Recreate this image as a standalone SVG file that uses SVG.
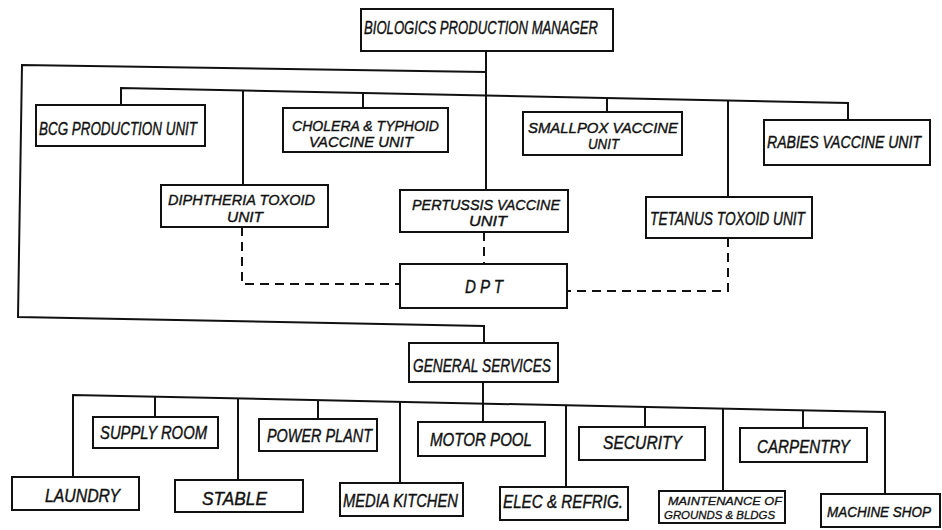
<svg xmlns="http://www.w3.org/2000/svg" width="942" height="530" viewBox="0 0 942 530">
  <style>
    .box { fill: #fff; stroke: #111; stroke-width: 2; }
    .ln { fill: none; stroke: #111; stroke-width: 2; stroke-linejoin: miter; }
    .dash { fill: none; stroke: #111; stroke-width: 2; stroke-dasharray: 9 6; }
    text { font-family: "Liberation Sans", Arial, sans-serif; font-style: italic; font-size: 18px; fill: #111; stroke: #111; stroke-width: 0.4; }
    .two { font-size: 15.5px; }
    .edge { font-size: 16px; }
    .edge2 { font-size: 14.5px; }
    .small { font-size: 11px; stroke-width: 0.3; }
  </style>
  <rect width="942" height="530" fill="#fff"/>

  <!-- connectors -->
  <g id="connectors">
    <!-- manager trunk down to pertussis -->
    <path class="ln" d="M486,51 V190"/>
    <!-- outer loop to general services -->
    <path class="ln" d="M486,72 L22,65 L18,317 L484,326 V343"/>
    <!-- unit bar -->
    <path class="ln" d="M121,105 V88 L848,103 V120"/>
    <path class="ln" d="M243,90.5 V185"/>
    <path class="ln" d="M363,93 V108"/>
    <path class="ln" d="M607,98 V112"/>
    <path class="ln" d="M728,100.5 V197"/>
    <!-- DPT dashed links -->
    <path class="dash" d="M242,227 V284 H400"/>
    <path class="dash" d="M484,232 V264"/>
    <path class="dash" d="M728,238 V291 H567"/>
    <!-- services bar -->
    <path class="ln" d="M483,382 V403.6"/>
    <path class="ln" d="M73,477 V395 L885,412 V494"/>
    <path class="ln" d="M155,396.7 V417"/>
    <path class="ln" d="M238,398.5 V480"/>
    <path class="ln" d="M318,400.1 V419"/>
    <path class="ln" d="M400,401.8 V483"/>
    <path class="ln" d="M483,403.6 V422"/>
    <path class="ln" d="M566,405.3 V487"/>
    <path class="ln" d="M645,407 V427"/>
    <path class="ln" d="M723,408.6 V491"/>
    <path class="ln" d="M803,410.3 V428"/>
  </g>

  <g id="manager">
    <rect class="box" x="361" y="9" width="252" height="42"/>
    <text x="364" y="34" textLength="234" lengthAdjust="spacingAndGlyphs">BIOLOGICS PRODUCTION MANAGER</text>
  </g>
  <g id="bcg">
    <rect class="box" x="36" y="105" width="169" height="41"/>
    <text x="39" y="135" textLength="158" lengthAdjust="spacingAndGlyphs">BCG PRODUCTION UNIT</text>
  </g>
  <g id="cholera">
    <rect class="box" x="283" y="108" width="165" height="44"/>
    <text class="two" x="292" y="131" textLength="147" lengthAdjust="spacingAndGlyphs">CHOLERA &amp; TYPHOID</text>
    <text class="two" x="309" y="147" textLength="104" lengthAdjust="spacingAndGlyphs">VACCINE UNIT</text>
  </g>
  <g id="smallpox">
    <rect class="box" x="523" y="112" width="159" height="43"/>
    <text class="two" x="528" y="133" textLength="150" lengthAdjust="spacingAndGlyphs">SMALLPOX VACCINE</text>
    <text class="two" x="588" y="149" textLength="31" lengthAdjust="spacingAndGlyphs">UNIT</text>
  </g>
  <g id="rabies">
    <rect class="box" x="764" y="120" width="166" height="45"/>
    <text class="edge" x="767" y="148" textLength="154" lengthAdjust="spacingAndGlyphs">RABIES VACCINE UNIT</text>
  </g>
  <g id="diphtheria">
    <rect class="box" x="161" y="185" width="167" height="42"/>
    <text class="two" x="168" y="205" textLength="147" lengthAdjust="spacingAndGlyphs">DIPHTHERIA TOXOID</text>
    <text class="two" x="227" y="222" textLength="36" lengthAdjust="spacingAndGlyphs">UNIT</text>
  </g>
  <g id="pertussis">
    <rect class="box" x="400" y="190" width="168" height="42"/>
    <text class="two" x="412" y="210" textLength="148" lengthAdjust="spacingAndGlyphs">PERTUSSIS VACCINE</text>
    <text class="two" x="469" y="226" textLength="38" lengthAdjust="spacingAndGlyphs">UNIT</text>
  </g>
  <g id="tetanus">
    <rect class="box" x="646" y="197" width="166" height="41"/>
    <text x="650" y="225" textLength="155" lengthAdjust="spacingAndGlyphs">TETANUS TOXOID UNIT</text>
  </g>
  <g id="dpt">
    <rect class="box" x="400" y="264" width="167" height="44"/>
    <text x="465" y="293" textLength="38" lengthAdjust="spacingAndGlyphs">D P T</text>
  </g>
  <g id="general-services">
    <rect class="box" x="409" y="343" width="149" height="39"/>
    <text x="413" y="372" textLength="138" lengthAdjust="spacingAndGlyphs">GENERAL SERVICES</text>
  </g>
  <g id="supply-room">
    <rect class="box" x="93" y="417" width="125" height="31"/>
    <text x="100" y="439" textLength="107" lengthAdjust="spacingAndGlyphs">SUPPLY ROOM</text>
  </g>
  <g id="power-plant">
    <rect class="box" x="259" y="419" width="118" height="32"/>
    <text x="267" y="442" textLength="105" lengthAdjust="spacingAndGlyphs">POWER PLANT</text>
  </g>
  <g id="motor-pool">
    <rect class="box" x="418" y="422" width="127" height="34"/>
    <text x="430" y="446" textLength="102" lengthAdjust="spacingAndGlyphs">MOTOR POOL</text>
  </g>
  <g id="security">
    <rect class="box" x="579" y="427" width="126" height="33"/>
    <text x="603" y="449" textLength="79" lengthAdjust="spacingAndGlyphs">SECURITY</text>
  </g>
  <g id="carpentry">
    <rect class="box" x="740" y="428" width="127" height="34"/>
    <text x="757" y="453" textLength="93" lengthAdjust="spacingAndGlyphs">CARPENTRY</text>
  </g>
  <g id="laundry">
    <rect class="box" x="12" y="477" width="127" height="33"/>
    <text x="45" y="502" textLength="75" lengthAdjust="spacingAndGlyphs">LAUNDRY</text>
  </g>
  <g id="stable">
    <rect class="box" x="175" y="480" width="128" height="32"/>
    <text x="202" y="505" textLength="65" lengthAdjust="spacingAndGlyphs">STABLE</text>
  </g>
  <g id="media-kitchen">
    <rect class="box" x="340" y="483" width="123" height="33"/>
    <text x="343" y="507" textLength="115" lengthAdjust="spacingAndGlyphs">MEDIA KITCHEN</text>
  </g>
  <g id="elec-refrig">
    <rect class="box" x="500" y="487" width="128" height="33"/>
    <text x="503" y="508" textLength="120" lengthAdjust="spacingAndGlyphs">ELEC &amp; REFRIG.</text>
  </g>
  <g id="maintenance">
    <rect class="box" x="659" y="491" width="126" height="32"/>
    <text class="small" x="668" y="505" textLength="114" lengthAdjust="spacingAndGlyphs">MAINTENANCE OF</text>
    <text class="small" x="664" y="519" textLength="111" lengthAdjust="spacingAndGlyphs">GROUNDS &amp; BLDGS</text>
  </g>
  <g id="machine-shop">
    <rect class="box" x="821" y="494" width="119" height="33"/>
    <text class="edge2" x="827" y="517" textLength="104" lengthAdjust="spacingAndGlyphs">MACHINE SHOP</text>
  </g>
</svg>
